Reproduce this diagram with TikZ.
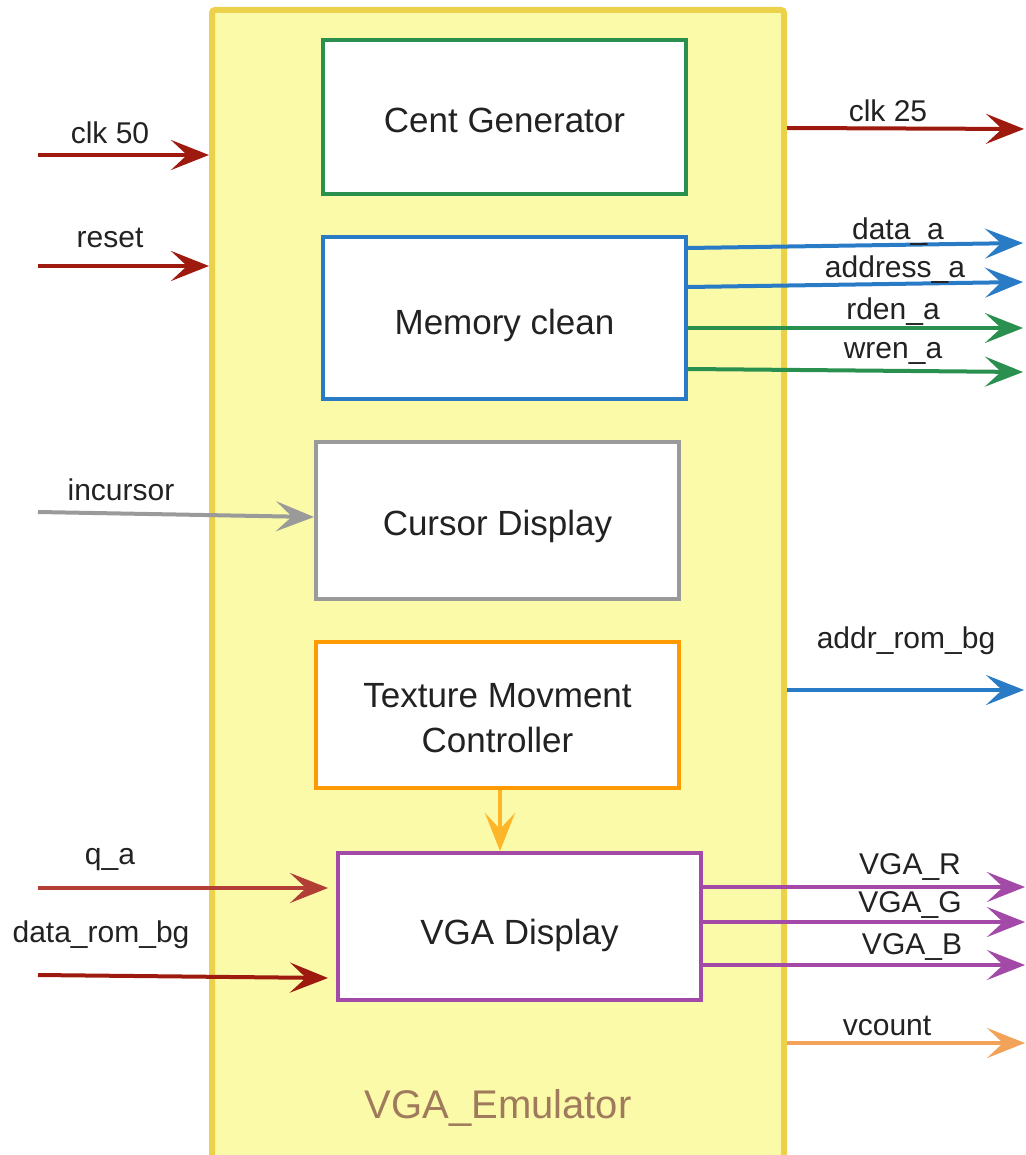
\documentclass[tikz,border=0pt]{standalone}
\usepackage{fontspec}
\setmainfont{Liberation Sans}
\usetikzlibrary{arrows.meta}

\definecolor{sigred}{HTML}{9E1A0E}
\definecolor{qred}{HTML}{B23E36}
\definecolor{sigblue}{HTML}{2A7BC6}
\definecolor{siggreen}{HTML}{2A9050}
\definecolor{siggrey}{HTML}{9A9A9A}
\definecolor{boxorange}{HTML}{FF9900}
\definecolor{flowamber}{HTML}{FDB62A}
\definecolor{sigpurple}{HTML}{A34AA8}
\definecolor{sigpeach}{HTML}{F3A25A}
\definecolor{emufill}{HTML}{FAFAA8}
\definecolor{emuline}{HTML}{ECD24A}
\definecolor{emutext}{HTML}{A07A5C}
\definecolor{labeltext}{HTML}{222222}

\tikzset{
  emubox/.style={draw=emuline, fill=emufill, line width=6pt, rounded corners=3pt,
    anchor=north west, inner sep=0pt},
  block/.style={draw, fill=white, line width=4pt, anchor=north west, inner sep=0pt},
  blocktext/.style={text=labeltext, font=\fontsize{35}{45}\selectfont, align=center},
  sig/.style={line width=4pt, -{Stealth[length=38pt,width=30pt,inset=16pt]}},
  lbl/.style={text=labeltext, font=\fontsize{30}{36}\selectfont, inner sep=0pt},
  title/.style={text=emutext, font=\fontsize{40}{48}\selectfont, inner sep=0pt}
}

\begin{document}
\begin{tikzpicture}[x=1pt, y=-1pt]
\useasboundingbox (0,0) rectangle (1025,1155);
\begin{scope}
\clip (0,0) rectangle (1025,1155);

% enclosing module (anchors sit on the outer edge of the border)
\node[emubox, minimum width=572pt, minimum height=1150pt] (emu) at (209,7) {};
\node[title] (emuname) at (498,1108) {VGA\_Emulator};

% internal blocks
\node[block, draw=siggreen, minimum width=363pt, minimum height=154pt] (cent) at (321,38) {};
\node[blocktext, yshift=-3pt] (centtxt) at (cent.center) {Cent Generator};
\node[block, draw=sigblue, minimum width=363pt, minimum height=162pt] (mem) at (321,235) {};
\node[blocktext, yshift=-7pt] (memtxt) at (mem.center) {Memory clean};
\node[block, draw=siggrey, minimum width=363pt, minimum height=157pt] (cur) at (314,440) {};
\node[blocktext, yshift=-6pt] (curtxt) at (cur.center) {Cursor Display};
\node[block, draw=boxorange, minimum width=363pt, minimum height=146pt] (tex) at (314,640) {};
\node[blocktext, yshift=-3pt] (textxt) at (tex.center) {Texture Movment\\Controller};
\node[block, draw=sigpurple, minimum width=363pt, minimum height=147pt] (vga) at (336,851) {};
\node[blocktext, yshift=-9pt] (vgatxt) at (vga.center) {VGA Display};

% free ends of the ports
\coordinate (clkin) at (38,155);
\coordinate (rstin) at (38,266);
\coordinate (curin) at (38,512);
\coordinate (qain) at (38,888);
\coordinate (romin) at (38,975);
\coordinate (clkout) at (1024,129);
\coordinate (dataout) at (1023,243);
\coordinate (addrout) at (1023,282);
\coordinate (rdenout) at (1023,328);
\coordinate (wrenout) at (1023,372);
\coordinate (romaddr) at (1024,690);
\coordinate (rout) at (1025,887);
\coordinate (gout) at (1025,922);
\coordinate (bout) at (1025,965);
\coordinate (vcout) at (1025,1043);
\coordinate (flowx) at (500,0);

% inputs
\draw[sig, sigred] (clkin) -- (clkin -| emu.west);
\draw[sig, sigred] (rstin) -- (rstin -| emu.west);
\draw[sig, siggrey] (curin) -- ([yshift=-77pt]cur.north west);
\draw[sig, qred] (qain) -- ([xshift=-8pt,yshift=-37pt]vga.north west);
\draw[sig, sigred] (romin) -- ([xshift=-8pt,yshift=-127pt]vga.north west);

% outputs
\draw[sig, sigred] ([yshift=1pt]emu.east |- clkout) -- (clkout);
\draw[sig, sigblue] ([yshift=-13pt]mem.north east) -- (dataout);
\draw[sig, sigblue] ([yshift=-52pt]mem.north east) -- (addrout);
\draw[sig, siggreen] ([yshift=-93pt]mem.north east) -- (rdenout);
\draw[sig, siggreen] ([yshift=-134pt]mem.north east) -- (wrenout);
\draw[sig, sigblue] (emu.east |- romaddr) -- (romaddr);
\draw[sig, sigpurple] ([yshift=-36pt]vga.north east) -- (rout);
\draw[sig, sigpurple] ([yshift=-71pt]vga.north east) -- (gout);
\draw[sig, sigpurple] ([yshift=-114pt]vga.north east) -- (bout);
\draw[sig, sigpeach] (emu.east |- vcout) -- (vcout);

% texture controller feeds the display
\draw[sig, flowamber] (tex.south -| flowx) -- (vga.north -| flowx);

% port labels
\node[lbl] (lclk50) at (110,133) {clk 50};
\node[lbl] (lrst) at (110,238) {reset};
\node[lbl] (lclk25) at (888,111) {clk 25};
\node[lbl] (ldata) at (898,232) {data\_a};
\node[lbl] (laddr) at (895,270) {address\_a};
\node[lbl] (lrden) at (893,312) {rden\_a};
\node[lbl] (lwren) at (893,353) {wren\_a};
\node[lbl] (lcur) at (121,490) {incursor};
\node[lbl] (lrom) at (906,641) {addr\_rom\_bg};
\node[lbl] (lqa) at (110,860) {q\_a};
\node[lbl] (ldrom) at (101,935) {data\_rom\_bg};
\node[lbl] (lr) at (910,867) {VGA\_R};
\node[lbl] (lg) at (910,905) {VGA\_G};
\node[lbl] (lb) at (912,947) {VGA\_B};
\node[lbl] (lvc) at (887,1026) {vcount};
\end{scope}
\end{tikzpicture}
\end{document}
